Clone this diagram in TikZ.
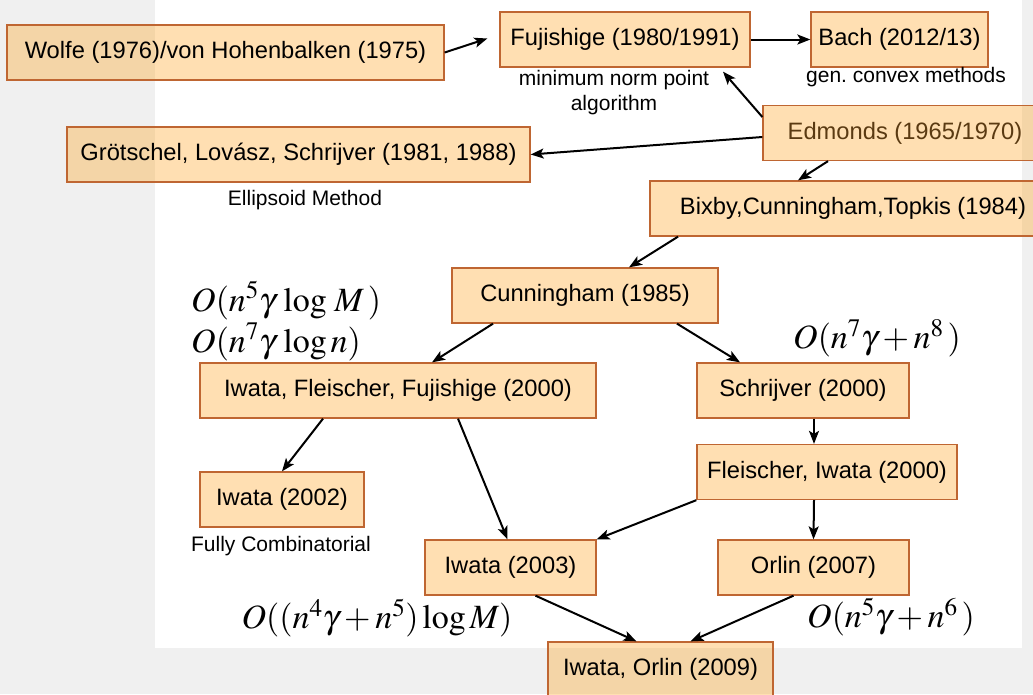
\documentclass[tikz,border=0pt]{standalone}
\usepackage{mathptmx}
\usepackage[no-math]{fontspec}
\setmainfont{Liberation Sans}
\usetikzlibrary{arrows.meta}

\definecolor{boxfill}{RGB}{255,152,0}
\definecolor{boxline}{HTML}{BF6632}
\definecolor{pagegray}{HTML}{F0F0F0}
\definecolor{edmtext}{HTML}{5A3A12}

\begin{document}
\begin{tikzpicture}[x=1pt, y=-1pt,
    box/.style={draw=boxline, line width=1.3pt, fill=boxfill, fill opacity=0.3, text opacity=1,
      minimum height=55pt, inner sep=0pt, font=\fontsize{23.7}{28}\selectfont},
    note/.style={font=\fontsize{21}{25}\selectfont, align=center},
    bound/.style={font=\fontsize{34}{41}\selectfont, inner sep=0pt},
    arr/.style={-{Stealth[length=13pt, width=10pt, inset=3pt]}, line width=2pt}]
            \useasboundingbox (0,0) rectangle (1033,694);
            \fill[pagegray] (0,0) rectangle (1033,694);
            \fill[white] (155,0) rectangle (1022,648);

            % Nodes
            \node[box, minimum width=437pt] (wolfe) at (225.5, 52.5) {Wolfe (1976)/von Hohenbalken (1975)};
            \node[box, minimum width=250pt] (fuji) at (625, 39.5) {Fujishige (1980/1991)};
            \node[box, minimum width=177pt] (bach) at (899.5, 39.5) {Bach (2012/13)};
            \node[box, minimum width=284pt, text=edmtext] (edm) at (905, 133) {Edmonds (1965/1970)};
            \node[box, minimum width=463pt] (grot) at (298.5, 154.5) {Grötschel, Lovász, Schrijver (1981, 1988)};
            \node[box, minimum width=406pt] (bix) at (853, 208.5) {Bixby,Cunningham,Topkis (1984)};
            \node[box, minimum width=266pt] (cun) at (585, 295.5) {Cunningham (1985)};
            \node[box, minimum width=396pt] (iff) at (398, 390.5) {Iwata, Fleischer, Fujishige (2000)};
            \node[box, minimum width=212pt] (sch) at (803, 390.5) {Schrijver (2000)};
            \node[box, minimum width=260pt] (fle) at (827, 472) {Fleischer, Iwata (2000)};
            \node[box, minimum width=164pt] (iw02) at (282, 499.5) {Iwata (2002)};
            \node[box, minimum width=171pt] (iw03) at (510.5, 567.5) {Iwata (2003)};
            \node[box, minimum width=191pt] (orl) at (813.5, 567.5) {Orlin (2007)};
            \node[box, minimum width=225pt] (iwo) at (660.5, 669.5) {Iwata, Orlin (2009)};

            % Notes
            \node[note] (mnp) at (614, 93) {minimum norm point\\algorithm};
            \node[note] (gcm) at (906, 77) {gen.\ convex methods};
            \node[note] (ell) at (305, 200) {Ellipsoid Method};
            \node[note] (fco) at (281, 546) {Fully Combinatorial};

            % Running times
            \node[bound, anchor=west, align=left] (bnda) at (191, 321) {$O(n^5\gamma\,\log\,M\,)$\\$O(n^7\gamma\,\log n)$};
            \node[bound] (bndb) at (877, 338) {$O(n^7\gamma+n^8\,)$};
            \node[bound] (bndc) at (891, 617) {$O(n^5\gamma+n^6\,)$};
            \node[bound] (bndd) at (377, 618) {$O((n^4\gamma+n^5)\log M)$};

            % Edges
            \draw[arr] (wolfe.east) -- ([xshift=-12pt, yshift=1pt]fuji.west);
            \draw[arr] (fuji.east) -- (bach.west);
            \draw[arr] ([yshift=16pt]edm.west) -- ([xshift=98pt, yshift=-4pt]fuji.south);
            \draw[arr] ([yshift=-4pt]edm.west) -- (grot.east);
            \draw[arr] ([xshift=-77pt]edm.south) -- ([xshift=-55pt]bix.north);
            \draw[arr] ([xshift=-175pt]bix.south) -- ([xshift=44pt]cun.north);
            \draw[arr] ([xshift=-92pt]cun.south) -- ([xshift=34pt]iff.north);
            \draw[arr] ([xshift=92pt]cun.south) -- ([xshift=-63pt]sch.north);
            \draw[arr] ([xshift=-75pt]iff.south) -- (iw02.north);
            \draw[arr] ([xshift=60pt]iff.south) -- ([xshift=-3pt]iw03.north);
            \draw[arr] ([xshift=11pt]sch.south) -- ([xshift=-13pt]fle.north);
            \draw[arr] (fle.south west) -- (iw03.north east);
            \draw[arr] ([xshift=-13pt]fle.south) -- (orl.north);
            \draw[arr] ([xshift=25pt]iw03.south) -- ([xshift=-24pt]iwo.north);
            \draw[arr] ([xshift=-20pt]orl.south) -- ([xshift=30pt]iwo.north);
        \end{tikzpicture}
\end{document}
